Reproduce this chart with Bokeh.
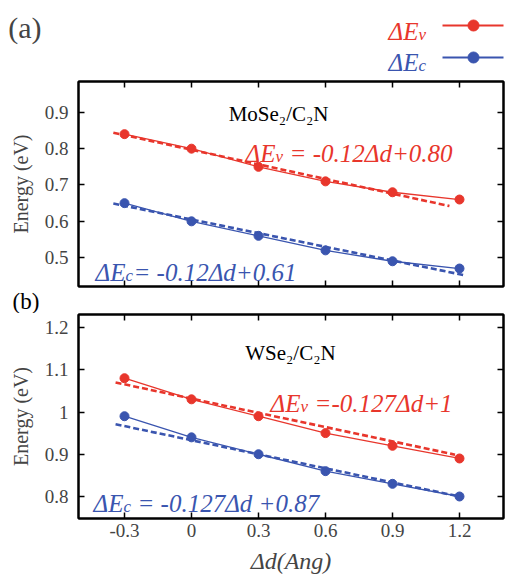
from bokeh.plotting import figure
from bokeh.layouts import column
from bokeh.models import Range1d, FixedTicker, LinearAxis, Label
from bokeh.embed import file_html
from bokeh.resources import INLINE

# ---------------- data ----------------
x_vals = [-0.3, 0.0, 0.3, 0.6, 0.9, 1.2]
x_tick_labels = ["-0.3", "0", "0.3", "0.6", "0.9", "1.2"]

# panel (a) MoSe2/C2N
a_ev = [0.84, 0.80, 0.75, 0.71, 0.68, 0.66]
a_ec = [0.65, 0.60, 0.56, 0.52, 0.49, 0.47]
a_fit_ev_x = [-0.35, 1.155]
a_fit_ev_y = [0.844, 0.642]
a_fit_ec_x = [-0.35, 1.227]
a_fit_ec_y = [0.649, 0.451]
a_y_ticks = [0.5, 0.6, 0.7, 0.8, 0.9]
a_y_tick_labels = ["0.5", "0.6", "0.7", "0.8", "0.9"]

# panel (b) WSe2/C2N
b_ev = [1.08, 1.03, 0.99, 0.95, 0.92, 0.89]
b_ec = [0.99, 0.94, 0.90, 0.86, 0.83, 0.80]
b_fit_ev_x = [-0.34, 1.18]
b_fit_ev_y = [1.070, 0.899]
b_fit_ec_x = [-0.34, 1.20]
b_fit_ec_y = [0.971, 0.800]
b_y_ticks = [0.8, 0.9, 1.0, 1.1, 1.2]
b_y_tick_labels = ["0.8", "0.9", "1", "1.1", "1.2"]

RED = "#E8362C"
BLUE = "#3A55AF"
FONT = "Liberation Serif"

EQ_SIZE = 25
SUB_SIZE = 17
HEAD_W = 30   # width of "ΔE" at EQ_SIZE italic
SUB_W = 8     # width of subscript
SPACE_W = 6
W = 505
BL, BR = 78, 2


def add_eq(p, x, y, sub, tail, color, gap_before_tail=True):
    p.add_layout(Label(x=x, y=y, text="ΔE", text_font=FONT, text_font_style="italic",
                       text_font_size=f"{EQ_SIZE}px", text_color=color,
                       text_baseline="alphabetic"))
    p.add_layout(Label(x=x, y=y, x_offset=HEAD_W, y_offset=-3, text=sub, text_font=FONT,
                       text_font_style="italic", text_font_size=f"{SUB_SIZE}px",
                       text_color=color, text_baseline="alphabetic"))
    if tail:
        off = HEAD_W + SUB_W + (SPACE_W if gap_before_tail else 0)
        p.add_layout(Label(x=x, y=y, x_offset=off, text=tail, text_font=FONT,
                           text_font_style="italic", text_font_size=f"{EQ_SIZE}px",
                           text_color=color, text_baseline="alphabetic"))


x_range = Range1d(-0.506, 1.397)


def style_axis(ax, ticks, labels, show_labels):
    ax.ticker = FixedTicker(ticks=ticks)
    ax.major_label_overrides = {t: l for t, l in zip(ticks, labels)}
    ax.major_tick_in = 6
    ax.major_tick_out = 0
    ax.minor_tick_line_color = None
    ax.axis_line_width = 2
    ax.major_tick_line_width = 1.5
    ax.major_label_text_font = FONT
    if show_labels:
        ax.major_label_text_font_size = "19px"
    else:
        ax.major_label_text_font_size = "1px"
        ax.major_label_text_color = None
        ax.major_label_standoff = 0


def make_panel(y_range, y_ticks, y_labels, ev, ec, fev_x, fev_y, fec_x, fec_y,
               height, mb_top, mb_bottom, show_x_labels, title_location="above"):
    p = figure(width=W, height=height, x_range=x_range, y_range=y_range,
               toolbar_location=None, output_backend="svg",
               title_location=title_location,
               min_border_left=BL, min_border_right=BR,
               min_border_top=mb_top, min_border_bottom=mb_bottom)
    p.grid.visible = False
    p.outline_line_color = "black"
    p.outline_line_width = 2

    bottom = [a for a in p.below if isinstance(a, LinearAxis)][0]
    left = p.left[0]
    style_axis(bottom, x_vals, x_tick_labels, show_x_labels)
    style_axis(left, y_ticks, y_labels, True)
    left.major_label_standoff = 10
    left.axis_label = "Energy (eV)"
    left.axis_label_text_font = FONT
    left.axis_label_text_font_style = "normal"
    left.axis_label_text_font_size = "20px"
    left.axis_label_standoff = 10

    top = LinearAxis()
    style_axis(top, x_vals, x_tick_labels, False)
    p.add_layout(top, "above")
    right = LinearAxis()
    style_axis(right, y_ticks, y_labels, False)
    p.add_layout(right, "right")

    # linear fits (dashed)
    p.line(fev_x, fev_y, color=RED, line_width=2.6, line_dash="6 3")
    p.line(fec_x, fec_y, color=BLUE, line_width=2.6, line_dash="6 3")
    # data
    p.line(x_vals, ev, color=RED, line_width=1.3)
    p.scatter(x_vals, ev, size=9, color=RED)
    p.line(x_vals, ec, color=BLUE, line_width=1.3)
    p.scatter(x_vals, ec, size=9, color=BLUE)
    return p, bottom


# ---------------- legend strip with (a) ----------------
strip = figure(width=W, height=75, x_range=Range1d(78, 503), y_range=Range1d(75, 0),
               x_axis_type=None, y_axis_type=None, toolbar_location=None,
               output_backend="svg", min_border_left=BL, min_border_right=BR,
               min_border_top=0, min_border_bottom=0)
strip.grid.visible = False
strip.outline_line_color = None
tag_axis = LinearAxis(ticker=FixedTicker(ticks=[27]), major_label_overrides={27: "(a)"})
tag_axis.axis_line_color = None
tag_axis.major_tick_line_color = None
tag_axis.minor_tick_line_color = None
tag_axis.major_label_text_font = FONT
tag_axis.major_label_text_font_size = "30px"
tag_axis.major_label_standoff = 31
strip.add_layout(tag_axis, "left")
for color, sub, ly, by in [(RED, "v", 25, 31), (BLUE, "c", 57, 62)]:
    strip.line([442, 505], [ly, ly], color=color, line_width=2.2)
    strip.scatter([473], [ly], size=11, color=color)
    add_eq(strip, 388, by, sub, None, color)

# ---------------- panel (a) (its bottom title carries the "(b)" tag) ----------------
pa, _ = make_panel(Range1d(0.4205, 0.985), a_y_ticks, a_y_tick_labels, a_ev, a_ec,
                   a_fit_ev_x, a_fit_ev_y, a_fit_ec_x, a_fit_ec_y,
                   height=238, mb_top=6, mb_bottom=26, show_x_labels=False,
                   title_location="below")
pa.title.text = "(b)"
pa.title.align = "left"
pa.title.offset = -66
pa.title.standoff = 0
pa.title.text_font = FONT
pa.title.text_font_size = "23px"
pa.title.text_font_style = "normal"
pa.title.text_color = "black"
pa.add_layout(Label(x=0.39, y=0.8945, text="MoSe₂/C₂N", text_font=FONT, text_font_size="21px",
                    text_align="center", text_baseline="alphabetic", text_color="black"))
add_eq(pa, 0.242, 0.7877, "v", "= -0.12Δd+0.80", RED)
add_eq(pa, -0.43, 0.459, "c", "= -0.12Δd+0.61", BLUE, gap_before_tail=False)

# ---------------- panel (b) ----------------
pb, pb_bottom = make_panel(Range1d(0.7479, 1.2308), b_y_ticks, b_y_tick_labels, b_ev, b_ec,
                           b_fit_ev_x, b_fit_ev_y, b_fit_ec_x, b_fit_ec_y,
                           height=265, mb_top=1, mb_bottom=60, show_x_labels=True)
pb_bottom.major_label_standoff = 5
pb_bottom.axis_label = "Δd(Ang)"
pb_bottom.axis_label_text_font = FONT
pb_bottom.axis_label_text_font_style = "italic"
pb_bottom.axis_label_text_font_size = "24px"
pb_bottom.axis_label_standoff = 8
pb.add_layout(Label(x=0.443, y=1.140, text="WSe₂/C₂N", text_font=FONT, text_font_size="21px",
                    text_align="center", text_baseline="alphabetic", text_color="black"))
add_eq(pb, 0.354, 1.0213, "v", "=-0.127Δd+1", RED)
add_eq(pb, -0.439, 0.7834, "c", "= -0.127Δd +0.87", BLUE)

layout = column(strip, pa, pb, spacing=0)
open("out.html", "w").write(file_html(layout, INLINE))
